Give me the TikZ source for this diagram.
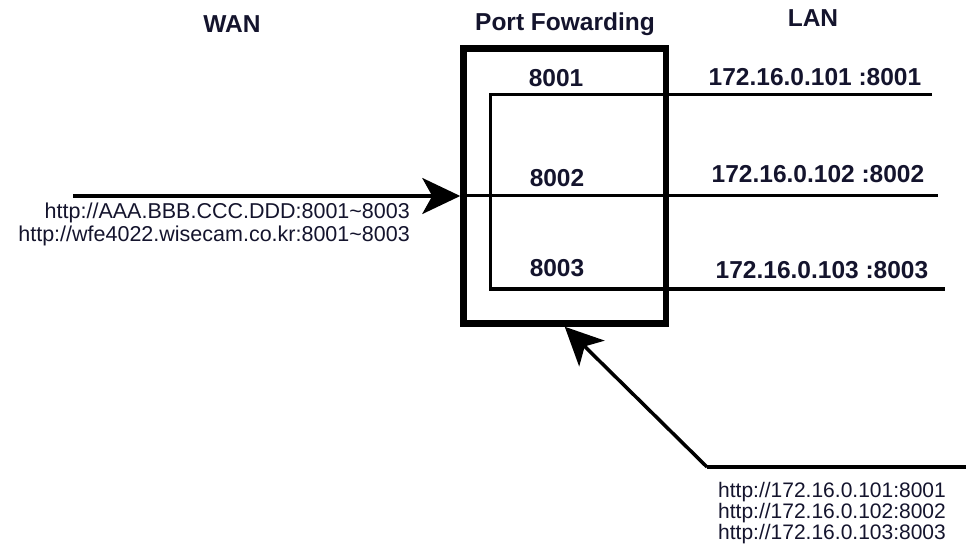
\documentclass[tikz,border=0pt]{standalone}
\usepackage{fontspec}
\setmainfont{Liberation Sans}
\usetikzlibrary{arrows.meta}
\definecolor{txt}{RGB}{20,20,45}
\begin{document}
\begin{tikzpicture}[x=1pt,y=-1pt,
  lbl/.style={font=\fontsize{24.5}{28}\selectfont\bfseries, text=txt, inner sep=0},
  url/.style={font=\fontsize{21.5}{23}\selectfont, text=txt, inner sep=0},
  wire/.style={line width=3pt},
  arr/.style={line width=3.5pt, -{Stealth[length=38pt,width=36pt,inset=10pt]}}]
\useasboundingbox (0,0) rectangle (966,545);
% box
\node[draw, line width=6.5pt, minimum width=202.5pt, minimum height=275pt, inner sep=0] (box) at (564.75,186) {};
% headings
\node[lbl] (wan) at (232,24) {WAN};
\node[lbl] (pf) at (565,24) {Port Fowarding};
\node[lbl] (lan) at (813,18) {LAN};
% ports
\node[lbl] (p1) at (556,78) {8001};
\node[lbl] (p2) at (557,178) {8002};
\node[lbl] (p3) at (557,268) {8003};
\node[lbl] (ip1) at (815,77) {172.16.0.101 :8001};
\node[lbl] (ip2) at (818,174) {172.16.0.102 :8002};
\node[lbl] (ip3) at (822,270) {172.16.0.103 :8003};
% urls
\node[url, align=right, anchor=north east] (wanurl) at (410,203) {http://AAA.BBB.CCC.DDD:8001\textasciitilde 8003\\http://wfe4022.wisecam.co.kr:8001\textasciitilde 8003};
\node[url, font=\fontsize{21}{21}\selectfont, align=center] (lanurl) at (832,513) {http://172.16.0.101:8001\\http://172.16.0.102:8002\\http://172.16.0.103:8003};
% coordinates
\coordinate (wanS) at (73,196);
\coordinate (l1W) at (490,95);
\coordinate (l1E) at (932,95);
\coordinate (l2E) at (938,196);
\coordinate (l3W) at (490,289);
\coordinate (l3E) at (945,289);
\coordinate (bE) at (966,467);
\coordinate (bK) at (707,467);
% wires
\draw[wire] (l1E) -- (l1W) -- (l3W) -- (l3E);
\draw[wire] (wanS -| box.west) -- (l2E);
\draw[arr] (wanS) -- (wanS -| box.west);
\draw[line width=3.5pt, line join=miter] (bE) -- (bK);
\draw[arr] (bK) -- (box.south);
\end{tikzpicture}
\end{document}
